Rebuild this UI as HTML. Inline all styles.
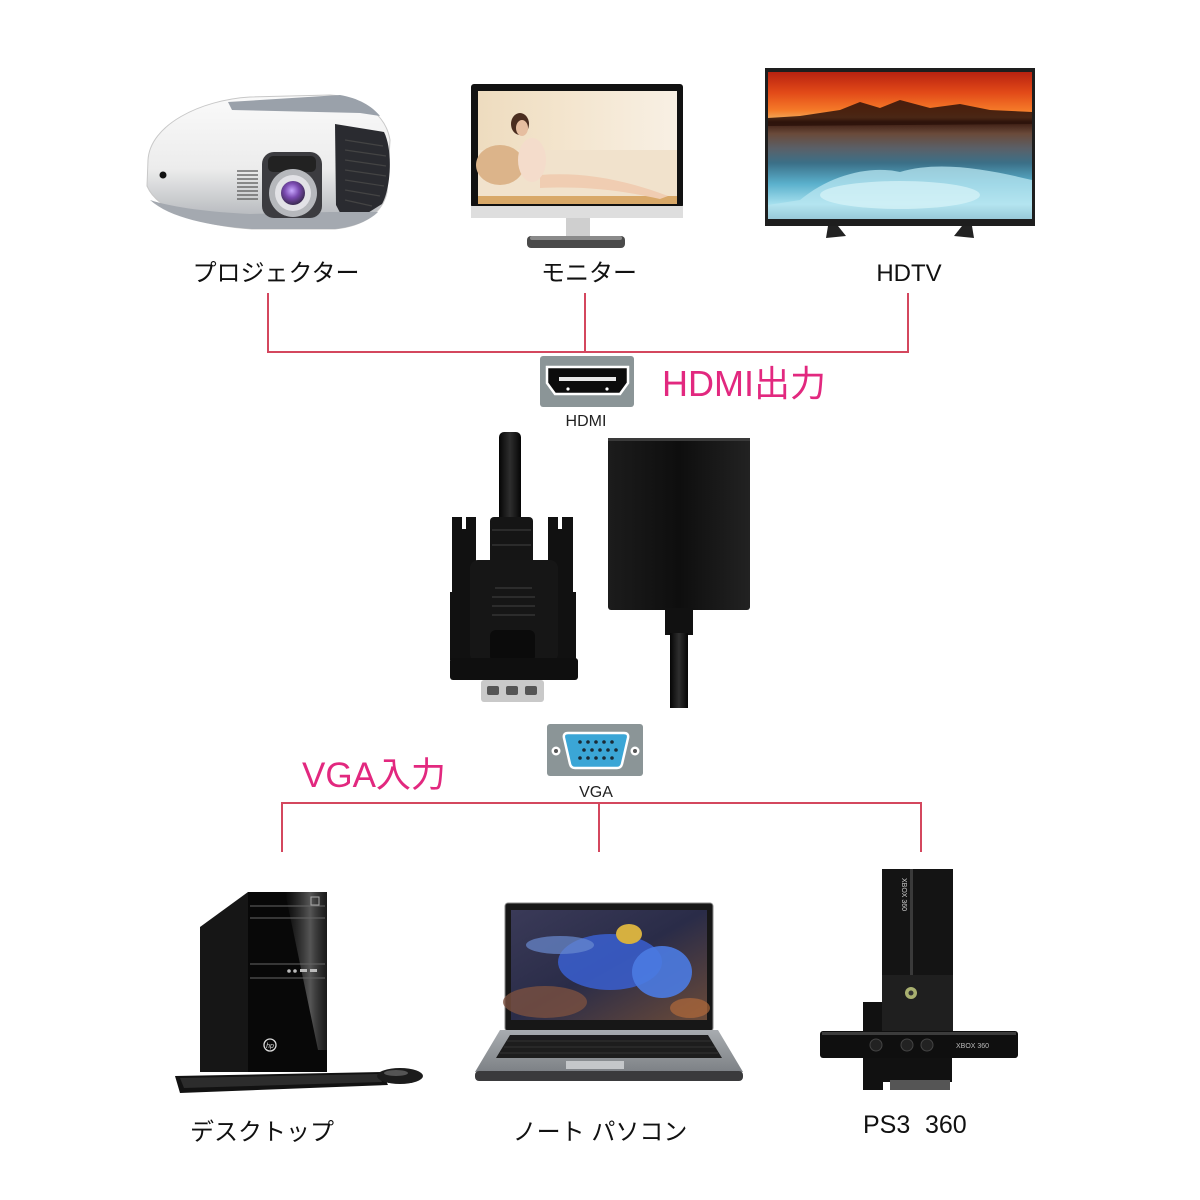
<!DOCTYPE html>
<html><head><meta charset="utf-8"><style>
html,body{margin:0;padding:0;background:#fff;}
svg{display:block;}
.jp{font-family:"Liberation Sans","Noto Sans CJK JP",sans-serif;}
</style></head><body>
<svg width="1200" height="1200" viewBox="0 0 1200 1200" xmlns="http://www.w3.org/2000/svg">
<defs>
<linearGradient id="projBody" x1="0" y1="0" x2="0" y2="1">
<stop offset="0" stop-color="#fafafa"/><stop offset="0.55" stop-color="#ececec"/><stop offset="1" stop-color="#a9adb2"/></linearGradient>
<linearGradient id="tvScr" x1="0" y1="0" x2="0" y2="1">
<stop offset="0" stop-color="#b82210"/><stop offset="0.14" stop-color="#e24a18"/><stop offset="0.26" stop-color="#f57a28"/>
<stop offset="0.31" stop-color="#f2a050"/><stop offset="0.34" stop-color="#3a1a10"/><stop offset="0.42" stop-color="#6a4a3a"/>
<stop offset="0.52" stop-color="#5a6068"/><stop offset="0.62" stop-color="#3b7088"/><stop offset="0.76" stop-color="#5ab0cc"/>
<stop offset="0.9" stop-color="#a6e0ee"/><stop offset="1" stop-color="#3a7890"/></linearGradient>
<linearGradient id="monScr" x1="0" y1="0" x2="1" y2="0">
<stop offset="0" stop-color="#eedcbf"/><stop offset="0.4" stop-color="#f3e4cc"/><stop offset="1" stop-color="#f8f0e4"/></linearGradient>
<linearGradient id="lapScr" x1="0" y1="0" x2="1" y2="1">
<stop offset="0" stop-color="#3a3a58"/><stop offset="0.5" stop-color="#2a2c48"/><stop offset="1" stop-color="#6a4a38"/></linearGradient>
<linearGradient id="deck" x1="0" y1="0" x2="0" y2="1">
<stop offset="0" stop-color="#a8acb0"/><stop offset="1" stop-color="#7d8186"/></linearGradient>
<linearGradient id="cable" x1="0" y1="0" x2="1" y2="0">
<stop offset="0" stop-color="#050505"/><stop offset="0.5" stop-color="#2e2e2e"/><stop offset="1" stop-color="#050505"/></linearGradient>
<linearGradient id="hbox" x1="0" y1="0" x2="1" y2="0">
<stop offset="0" stop-color="#1c1c1c"/><stop offset="0.5" stop-color="#0e0e0e"/><stop offset="1" stop-color="#222"/></linearGradient>
<linearGradient id="gloss" x1="0" y1="0" x2="1" y2="0">
<stop offset="0" stop-color="#555" stop-opacity="0"/><stop offset="0.6" stop-color="#777" stop-opacity="0.7"/><stop offset="1" stop-color="#444" stop-opacity="0.3"/></linearGradient>
<radialGradient id="lens" cx="0.45" cy="0.4" r="0.6">
<stop offset="0" stop-color="#c8a8ff"/><stop offset="0.5" stop-color="#7a4ab0"/><stop offset="1" stop-color="#3a2a50"/></radialGradient>
</defs>

<!-- Projector -->
<path d="M148,160 C150,125 200,100 250,97 L330,95 C362,97 386,115 390,140 L387,192 C383,212 365,226 335,229 L252,229 C205,226 158,212 147,186 Z" fill="url(#projBody)" stroke="#c8c8c8"/>
<path d="M228,102 L340,95 C358,98 372,106 380,116 L360,113 L232,110 Z" fill="#9aa1aa"/>
<path d="M335,124 L384,132 C393,150 391,188 382,204 L347,226 L336,205 Z" fill="#2a2b30"/>
<g stroke="#444" stroke-width="1.2">
<line x1="345" y1="140" x2="383" y2="146"/><line x1="345" y1="150" x2="386" y2="156"/><line x1="345" y1="160" x2="386" y2="166"/>
<line x1="345" y1="170" x2="386" y2="176"/><line x1="345" y1="180" x2="384" y2="186"/><line x1="345" y1="190" x2="380" y2="196"/><line x1="345" y1="200" x2="372" y2="206"/></g>
<path d="M150,200 C170,218 210,226 252,229 L335,229 C355,227 370,220 378,212 L330,212 L250,214 C210,212 175,208 150,200 Z" fill="#a4a9b0"/>
<rect x="262" y="152" width="60" height="66" rx="12" fill="#3c3c40"/>
<rect x="268" y="156" width="48" height="16" rx="5" fill="#222"/>
<circle cx="293" cy="193" r="24" fill="#b6b8bc"/>
<circle cx="293" cy="193" r="18" fill="#e2e2e6"/>
<circle cx="293" cy="193" r="12" fill="url(#lens)"/>
<g stroke="#555" stroke-width="1.3">
<line x1="237" y1="171" x2="258" y2="171"/><line x1="237" y1="175" x2="258" y2="175"/><line x1="237" y1="179" x2="258" y2="179"/>
<line x1="237" y1="183" x2="258" y2="183"/><line x1="237" y1="187" x2="258" y2="187"/><line x1="237" y1="191" x2="258" y2="191"/>
<line x1="237" y1="195" x2="258" y2="195"/><line x1="237" y1="199" x2="258" y2="199"/></g>
<circle cx="163" cy="175" r="3.5" fill="#111"/>

<!-- Monitor -->
<rect x="471" y="84" width="212" height="124" rx="3" fill="#111"/>
<rect x="478" y="91" width="199" height="113" fill="url(#monScr)"/>
<rect x="478" y="150" width="199" height="48" fill="#f1e2cc"/>
<ellipse cx="500" cy="165" rx="24" ry="20" fill="#dcb48a"/>
<rect x="478" y="196" width="199" height="8" fill="#d8a868"/>
<path d="M540,175 C580,172 620,178 668,196 L660,199 C620,190 585,186 540,188 Z" fill="#f0cdb2"/>
<ellipse cx="532" cy="160" rx="14" ry="22" fill="#f4dccb"/>
<ellipse cx="520" cy="124" rx="9" ry="11" fill="#4b2e20"/>
<ellipse cx="522" cy="128" rx="6" ry="8" fill="#e6bea0"/>
<rect x="471" y="206" width="212" height="12" fill="#dedede"/>
<rect x="566" y="218" width="24" height="20" fill="#cfcfcf"/>
<rect x="527" y="236" width="98" height="12" rx="4" fill="#4a4a4a"/>
<rect x="530" y="236" width="92" height="4" rx="2" fill="#8a8a8a"/>

<!-- TV -->
<rect x="765" y="68" width="270" height="158" fill="#1e1e1e"/>
<rect x="768" y="72" width="264" height="147" fill="url(#tvScr)"/>
<path d="M768,118 L800,116 L840,110 L860,102 L880,108 L900,100 L930,108 L960,104 L990,110 L1032,112 L1032,124 L768,126 Z" fill="#2b120a" opacity="0.85"/>
<path d="M800,200 C830,175 870,165 900,172 C940,160 990,170 1032,180 L1032,219 L768,219 L768,205 Z" fill="#b8e6f0" opacity="0.75"/>
<ellipse cx="900" cy="195" rx="80" ry="14" fill="#d8f3f8" opacity="0.7"/>
<path d="M828,226 L838,226 L846,236 L826,238 Z" fill="#222"/>
<path d="M962,226 L972,226 L974,238 L954,236 Z" fill="#222"/>

<!-- Top labels -->
<g class="jp" font-size="24" fill="#111" text-anchor="middle">
<text x="276" y="281">プロジェクター</text>
<text x="589" y="281">モニター</text>
<text x="909" y="281" font-family="Liberation Sans, sans-serif">HDTV</text>
</g>

<!-- Top connectors -->
<g stroke="#d4475e" stroke-width="2" fill="none">
<line x1="268" y1="293" x2="268" y2="352"/>
<line x1="585" y1="293" x2="585" y2="352"/>
<line x1="908" y1="293" x2="908" y2="352"/>
<line x1="267" y1="352" x2="909" y2="352"/>
</g>

<!-- HDMI icon -->
<rect x="540" y="356" width="94" height="51" rx="3" fill="#8b9597"/>
<path d="M547,367 L628,367 L628,383 L620,394 L555,394 L547,383 Z" fill="#0c0c0c" stroke="#fff" stroke-width="2.5"/>
<rect x="559" y="377" width="57" height="4" fill="#e8e8e8"/>
<circle cx="568" cy="389" r="1.6" fill="#fff"/><circle cx="607" cy="389" r="1.6" fill="#fff"/>
<text x="586" y="426" font-family="Liberation Sans, sans-serif" font-size="16" fill="#222" text-anchor="middle">HDMI</text>
<text x="662" y="396" class="jp" font-size="36" fill="#e2287f">HDMI出力</text>

<!-- VGA cable connector -->
<rect x="499" y="432" width="22" height="92" rx="5" fill="url(#cable)"/>
<rect x="490" y="517" width="43" height="48" rx="4" fill="#151515"/>
<g stroke="#333" stroke-width="1.5"><line x1="492" y1="530" x2="531" y2="530"/><line x1="492" y1="545" x2="531" y2="545"/></g>
<path d="M452,517 L476,517 L476,592 L478,592 L478,660 L450,660 L450,592 L452,592 Z" fill="#111"/>
<rect x="462" y="517" width="4" height="12" fill="#fff"/>
<path d="M548,517 L573,517 L573,592 L576,592 L576,660 L546,660 L546,592 L548,592 Z" fill="#111"/>
<rect x="558" y="517" width="4" height="12" fill="#fff"/>
<rect x="470" y="560" width="88" height="102" rx="8" fill="#161616"/>
<g stroke="#333" stroke-width="1.6"><line x1="495" y1="588" x2="532" y2="588"/><line x1="492" y1="597" x2="535" y2="597"/><line x1="492" y1="606" x2="535" y2="606"/><line x1="492" y1="615" x2="535" y2="615"/></g>
<rect x="490" y="630" width="45" height="32" rx="6" fill="#0b0b0b"/>
<rect x="450" y="658" width="128" height="22" rx="3" fill="#0f0f0f"/>
<rect x="481" y="680" width="63" height="22" rx="3" fill="#c9c9c9"/>
<g fill="#555"><rect x="487" y="686" width="12" height="9" rx="2"/><rect x="506" y="686" width="12" height="9" rx="2"/><rect x="525" y="686" width="12" height="9" rx="2"/></g>

<!-- HDMI box -->
<rect x="608" y="438" width="142" height="172" rx="3" fill="url(#hbox)"/>
<rect x="608" y="438" width="142" height="3" fill="#3a3a3a"/>
<rect x="665" y="608" width="28" height="27" fill="#111"/>
<rect x="670" y="633" width="18" height="75" fill="url(#cable)"/>

<!-- VGA icon -->
<rect x="547" y="724" width="96" height="52" rx="3" fill="#8b9597"/>
<circle cx="556" cy="751" r="4.5" fill="#fff"/><circle cx="556" cy="751" r="2" fill="#555"/>
<circle cx="635" cy="751" r="4.5" fill="#fff"/><circle cx="635" cy="751" r="2" fill="#555"/>
<path d="M568,733 L624,733 Q629,733 628,738 L622,764 Q621,768 617,768 L575,768 Q571,768 570,764 L564,738 Q563,733 568,733 Z" fill="#3ba6d6" stroke="#fff" stroke-width="2.5"/>
<g fill="#1a2a36">
<circle cx="580" cy="742" r="1.8"/><circle cx="588" cy="742" r="1.8"/><circle cx="596" cy="742" r="1.8"/><circle cx="604" cy="742" r="1.8"/><circle cx="612" cy="742" r="1.8"/>
<circle cx="584" cy="750" r="1.8"/><circle cx="592" cy="750" r="1.8"/><circle cx="600" cy="750" r="1.8"/><circle cx="608" cy="750" r="1.8"/><circle cx="616" cy="750" r="1.8"/>
<circle cx="580" cy="758" r="1.8"/><circle cx="588" cy="758" r="1.8"/><circle cx="596" cy="758" r="1.8"/><circle cx="604" cy="758" r="1.8"/><circle cx="612" cy="758" r="1.8"/></g>
<text x="596" y="797" font-family="Liberation Sans, sans-serif" font-size="16" fill="#222" text-anchor="middle">VGA</text>
<text x="302" y="787" class="jp" font-size="35" fill="#e2287f">VGA入力</text>

<!-- Bottom connectors -->
<g stroke="#d4475e" stroke-width="2" fill="none">
<line x1="281" y1="803" x2="922" y2="803"/>
<line x1="282" y1="803" x2="282" y2="852"/>
<line x1="599" y1="803" x2="599" y2="852"/>
<line x1="921" y1="803" x2="921" y2="852"/>
</g>

<!-- Desktop -->
<path d="M200,927 L248,892 L248,1072 L200,1072 Z" fill="#161616"/>
<rect x="248" y="892" width="79" height="180" fill="#080808"/>
<path d="M285,892 L327,892 L327,1050 L318,1050 Z" fill="url(#gloss)"/>
<g stroke="#666" stroke-width="1"><line x1="250" y1="906" x2="325" y2="906"/><line x1="250" y1="918" x2="325" y2="918"/><line x1="250" y1="964" x2="325" y2="964"/><line x1="250" y1="978" x2="325" y2="978"/></g>
<rect x="311" y="897" width="8" height="8" fill="none" stroke="#aaa"/>
<g fill="#bbb"><circle cx="289" cy="971" r="1.8"/><circle cx="295" cy="971" r="1.8"/><rect x="300" y="969" width="7" height="3"/><rect x="310" y="969" width="7" height="3"/></g>
<circle cx="270" cy="1045" r="6" fill="none" stroke="#ddd" stroke-width="1.3"/>
<text x="270" y="1048" font-family="Liberation Sans, sans-serif" font-size="7" fill="#ddd" text-anchor="middle" font-style="italic">hp</text>
<path d="M175,1076 L382,1072 L388,1085 L180,1093 Z" fill="#121212"/>
<path d="M180,1078 L378,1074 L382,1082 L184,1088 Z" fill="#2c2c2c"/>
<ellipse cx="400" cy="1076" rx="23" ry="8" fill="#1c1c1c"/>
<ellipse cx="396" cy="1073" rx="12" ry="3" fill="#555"/>

<!-- Laptop -->
<rect x="505" y="903" width="208" height="128" rx="3" fill="#171717" stroke="#8a8a8a"/>
<rect x="511" y="910" width="196" height="110" fill="url(#lapScr)"/>
<ellipse cx="610" cy="962" rx="52" ry="28" fill="#3a5fd0" opacity="0.85"/>
<ellipse cx="662" cy="972" rx="30" ry="26" fill="#4b7be2" opacity="0.9"/>
<ellipse cx="560" cy="945" rx="34" ry="9" fill="#6a8ad0" opacity="0.7"/>
<ellipse cx="629" cy="934" rx="13" ry="10" fill="#d6b040"/>
<ellipse cx="545" cy="1002" rx="42" ry="16" fill="#7a5040" opacity="0.8"/>
<ellipse cx="690" cy="1008" rx="20" ry="10" fill="#b06a3a" opacity="0.7"/>
<path d="M500,1030 L718,1030 L743,1072 L475,1072 Z" fill="url(#deck)"/>
<path d="M510,1035 L708,1035 L722,1058 L496,1058 Z" fill="#1d1d1d"/>
<g stroke="#3a3a3a" stroke-width="0.8"><line x1="507" y1="1041" x2="711" y2="1041"/><line x1="504" y1="1047" x2="715" y2="1047"/><line x1="500" y1="1053" x2="718" y2="1053"/></g>
<rect x="566" y="1061" width="58" height="8" fill="#c4c7ca"/>
<rect x="475" y="1071" width="268" height="10" rx="4" fill="#3a3a3c"/>

<!-- Xbox -->
<rect x="863" y="1002" width="20" height="88" fill="#111"/>
<rect x="882" y="869" width="71" height="162" fill="#141414"/>
<rect x="882" y="975" width="71" height="56" fill="#1f1f1f"/>
<rect x="910" y="869" width="3" height="106" fill="#3a3a3a"/>
<text transform="translate(902,878) rotate(90)" font-family="Liberation Sans, sans-serif" font-size="7" fill="#ccc">XBOX 360</text>
<circle cx="911" cy="993" r="6" fill="#a9b070"/><circle cx="911" cy="993" r="2.5" fill="#333"/>
<rect x="820" y="1031" width="198" height="27" rx="3" fill="#0f0f0f"/>
<rect x="822" y="1032" width="194" height="3" fill="#3c3c3c"/>
<g fill="#222" stroke="#444"><circle cx="876" cy="1045" r="6"/><circle cx="907" cy="1045" r="6"/><circle cx="927" cy="1045" r="6"/></g>
<text x="956" y="1048" font-family="Liberation Sans, sans-serif" font-size="7" fill="#bbb">XBOX 360</text>
<path d="M868,1058 L952,1058 L952,1082 L868,1082 Z" fill="#111"/>
<rect x="890" y="1080" width="60" height="10" fill="#555"/>

<!-- Bottom labels -->
<g class="jp" font-size="24" fill="#111" text-anchor="middle">
<text x="262" y="1140">デスクトップ</text>
<text x="600" y="1140">ノート パソコン</text>
</g>
<text x="863" y="1133" font-family="Liberation Sans, sans-serif" font-size="25" fill="#111">PS3</text>
<text x="925" y="1133" font-family="Liberation Sans, sans-serif" font-size="25" fill="#111">360</text>
</svg>
</body></html>
